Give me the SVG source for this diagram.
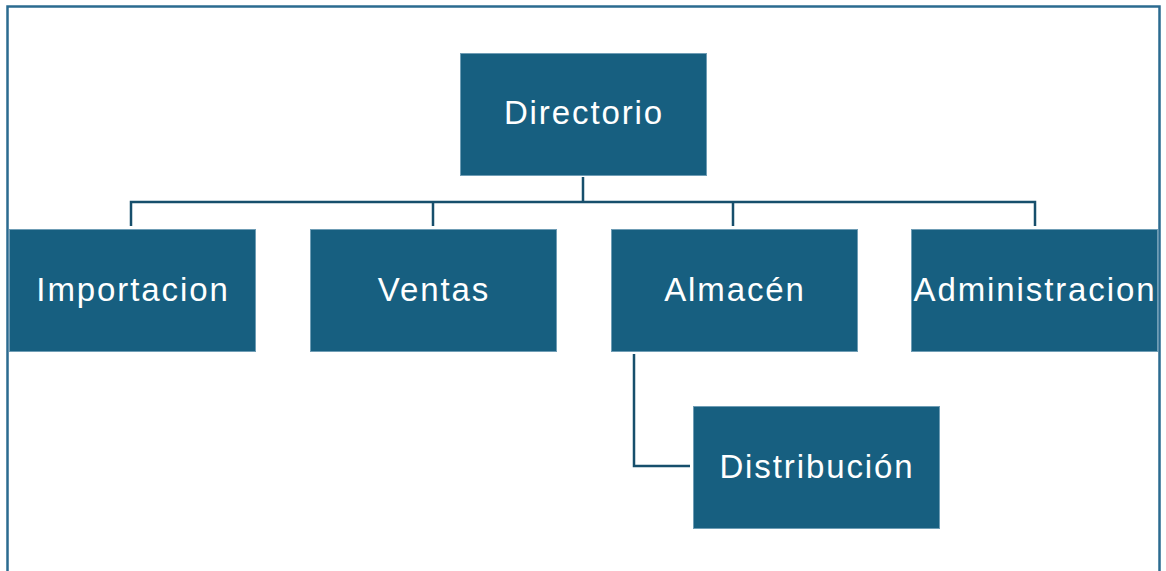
<svg xmlns="http://www.w3.org/2000/svg" width="1166" height="571" viewBox="0 0 1166 571">
<style>
.box{fill:#175f80;stroke:#6f9db5;stroke-width:1}
.lbl{fill:#ffffff;font-family:"Liberation Sans",Arial,sans-serif;font-size:33px;letter-spacing:1.9px;text-anchor:middle}
.con{fill:none;stroke:#174f6c;stroke-width:2.5}
</style>
<rect x="0" y="0" width="1166" height="571" fill="#ffffff"/>
<path d="M7.5 580 V6.5 H1159.5 V580" fill="none" stroke="#2b6b90" stroke-width="2.5"/>
<g id="connectors">
<path class="con" d="M583 177 V202 M131 226 V202 H1035 V226 M433 202 V226 M733 202 V226"/>
<path class="con" d="M634 354 V466 H690"/>
</g>
<g id="n-directorio"><rect class="box" x="460.5" y="53.5" width="246" height="122"/><text class="lbl" x="584" y="124">Directorio</text></g>
<g id="n-importacion"><rect class="box" x="9.5" y="229.5" width="246" height="122"/><text class="lbl" x="133" y="301">Importacion</text></g>
<g id="n-ventas"><rect class="box" x="310.5" y="229.5" width="246" height="122"/><text class="lbl" x="434" y="301">Ventas</text></g>
<g id="n-almacen"><rect class="box" x="611.5" y="229.5" width="246" height="122"/><text class="lbl" x="735" y="301">Almacén</text></g>
<g id="n-administracion"><rect class="box" x="911.5" y="229.5" width="246" height="122"/><text class="lbl" x="1035" y="301">Administracion</text></g>
<g id="n-distribucion"><rect class="box" x="693.5" y="406.5" width="246" height="122"/><text class="lbl" x="817" y="478">Distribución</text></g>
</svg>
